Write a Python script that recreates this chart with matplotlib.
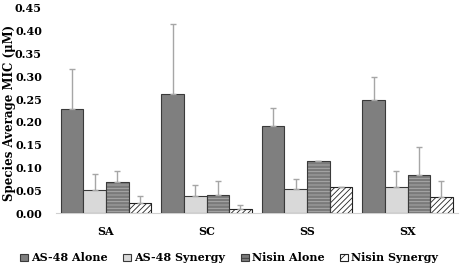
import numpy as np
import matplotlib
matplotlib.use('Agg')
import matplotlib.pyplot as plt
from matplotlib.patches import Patch

species = ['SA', 'SC', 'SS', 'SX']
series = ['AS-48 Alone', 'AS-48 Synergy', 'Nisin Alone', 'Nisin Synergy']

as48_alone = [0.229, 0.261, 0.192, 0.247]
as48_alone_err = [0.086, 0.153, 0.039, 0.051]
as48_syn = [0.050, 0.037, 0.053, 0.057]
as48_syn_err = [0.035, 0.024, 0.021, 0.035]
nisin_alone = [0.069, 0.039, 0.115, 0.083]
nisin_alone_err = [0.024, 0.031, 0.0, 0.062]
nisin_syn = [0.021, 0.008, 0.057, 0.036]
nisin_syn_err = [0.016, 0.009, 0.0, 0.034]

plt.rcParams['font.family'] = 'DejaVu Serif'
plt.rcParams['font.weight'] = 'bold'
plt.rcParams['font.size'] = 8
plt.rcParams['hatch.linewidth'] = 0.6

fig = plt.figure(figsize=(4.61, 2.65), dpi=100)
ax = fig.add_axes([0.121, 0.196, 0.872, 0.774])

x = np.arange(len(species))
w = 0.225
edge = '#3a3a3a'
errc = '#a6a6a6'
ekw = dict(ecolor=errc, elinewidth=1.0, capsize=2.5, capthick=1.0)

offs = [-1.5 * w, -0.5 * w, 0.5 * w, 1.5 * w]

# AS-48 alone
ax.bar(x + offs[0], as48_alone, w, color='#7f7f7f', edgecolor=edge, linewidth=0.8,
       yerr=[[0] * 4, as48_alone_err], error_kw=ekw, zorder=2)
# AS-48 synergy
ax.bar(x + offs[1], as48_syn, w, color='#d9d9d9', edgecolor=edge, linewidth=0.8,
       yerr=[[0] * 4, as48_syn_err], error_kw=ekw, zorder=2)
# Nisin alone: gray with light horizontal stripes
ax.bar(x + offs[2], nisin_alone, w, color='#7a7a7a', edgecolor='#b0b0b0', linewidth=0,
       hatch='-----', zorder=2)
ax.bar(x + offs[2], nisin_alone, w, fill=False, edgecolor=edge, linewidth=0.8,
       yerr=[[0] * 4, nisin_alone_err], error_kw=ekw, zorder=3)
# Nisin synergy: white with diagonal hatch
ax.bar(x + offs[3], nisin_syn, w, color='white', edgecolor='#222222', linewidth=0.8,
       hatch='//////', yerr=[[0] * 4, nisin_syn_err], error_kw=ekw, zorder=2)

ax.set_ylim(0, 0.45)
ax.set_xlim(-0.5, 3.5)
ax.set_yticks(np.arange(0, 0.46, 0.05))
ax.set_yticklabels(['%.2f' % v for v in np.arange(0, 0.46, 0.05)])
ax.set_xticks(x)
ax.set_xticklabels(species)
ax.tick_params(axis='both', length=0)
ax.tick_params(axis='x', pad=9)
ax.tick_params(axis='y', pad=10)
for s in ['top', 'right', 'left']:
    ax.spines[s].set_visible(False)
ax.spines['bottom'].set_color('#d0d0d0')
ax.spines['bottom'].set_zorder(1)

ax.set_ylabel('Species Average MIC (\u03bcM)', fontweight='bold', fontsize=8.5)
ax.yaxis.set_label_coords(-0.10, 0.49)

handles = [
    Patch(facecolor='#7f7f7f', edgecolor=edge, linewidth=0.8),
    Patch(facecolor='#d9d9d9', edgecolor=edge, linewidth=0.8),
    Patch(facecolor='#7a7a7a', edgecolor=edge, linewidth=0.8, hatch='---'),
    Patch(facecolor='white', edgecolor='#222222', linewidth=0.8, hatch='///'),
]
fig.legend(handles, series, loc='center', bbox_to_anchor=(0.497, 0.027), ncol=4,
           frameon=False, handlelength=0.7, handleheight=0.7, handletextpad=0.3,
           columnspacing=1.4, borderaxespad=0)

fig.savefig('out.png', dpi=100)
